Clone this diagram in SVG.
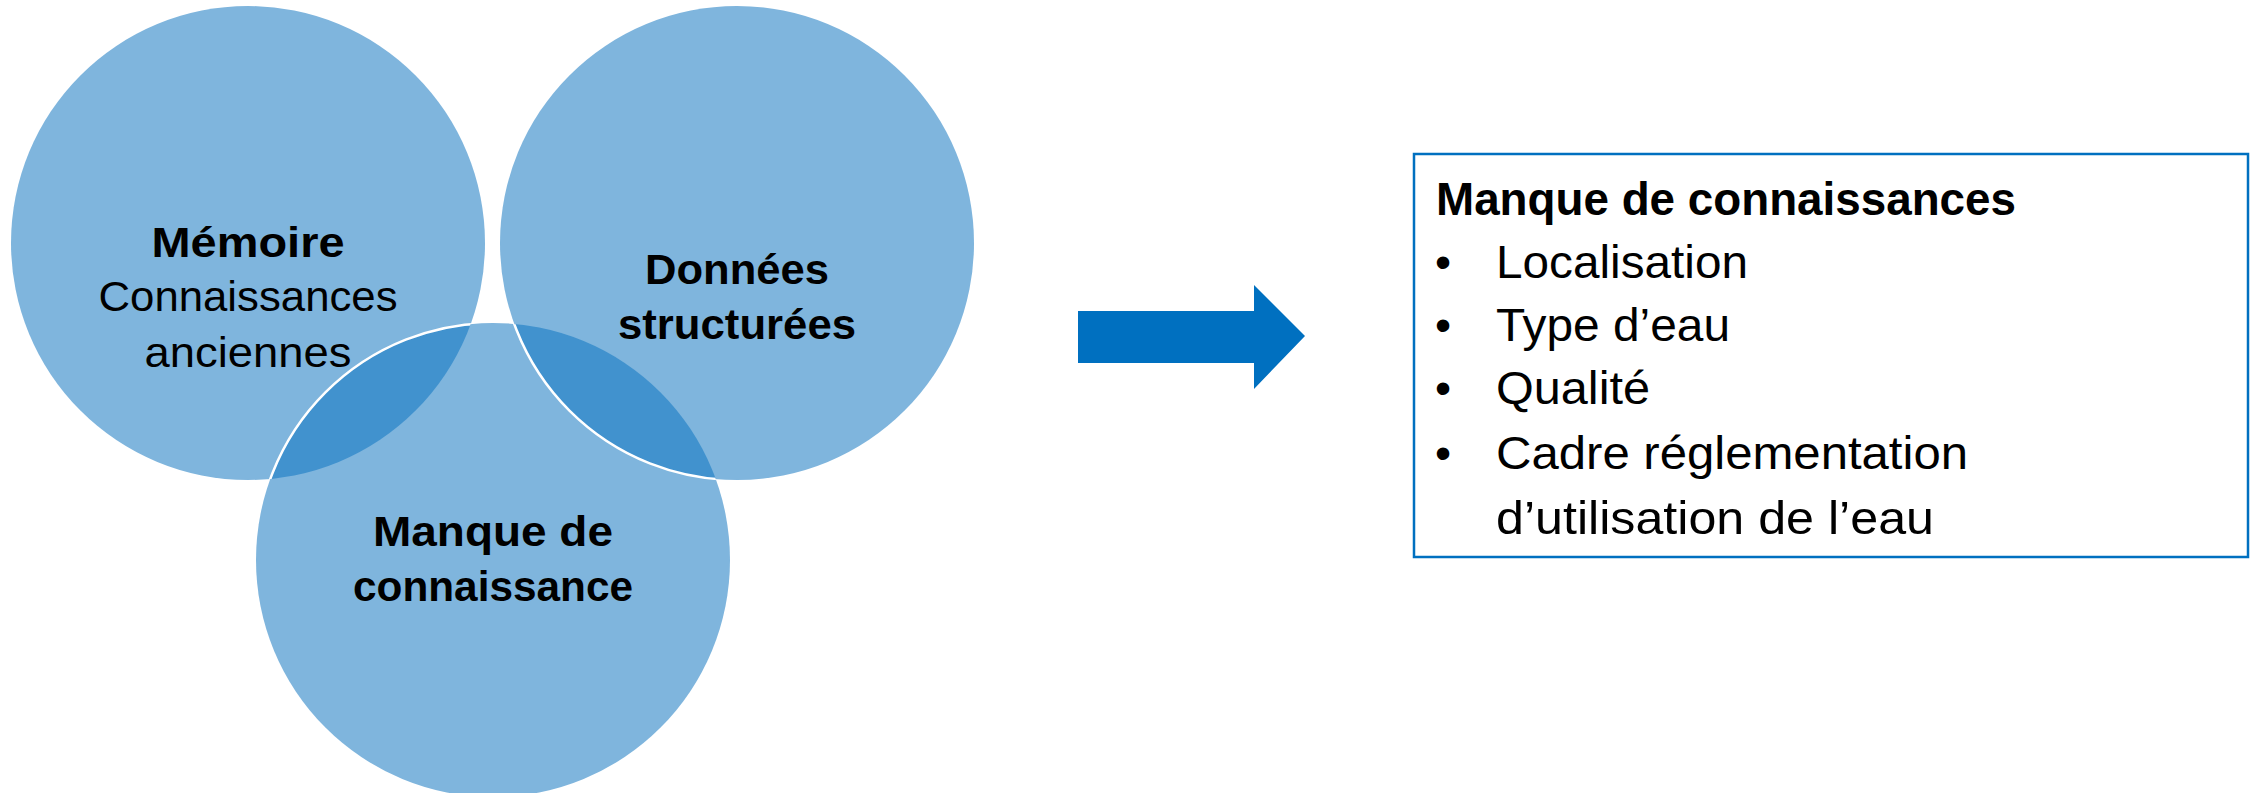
<svg xmlns="http://www.w3.org/2000/svg" width="2252" height="793" viewBox="0 0 2252 793">
<defs>
<style>
.c{fill:#7FB5DD}
.lens{fill:#4192CE}
.edge{fill:none;stroke:#FFFFFF;stroke-width:2.5}
text{font-family:"Liberation Sans",Arial,sans-serif;fill:#000}
.l{font-size:42px}
.r{font-size:46px}
.b{font-weight:bold}
.m{text-anchor:middle}
</style>
<clipPath id="clipL"><circle cx="248" cy="243" r="237"/></clipPath>
<clipPath id="clipR"><circle cx="737" cy="243" r="237"/></clipPath>
<clipPath id="clipB"><circle cx="493" cy="560" r="237"/></clipPath>
</defs>
<rect width="2252" height="793" fill="#FFFFFF"/>
<g id="node-memoire">
<circle class="c" cx="248" cy="243" r="237"/>
</g>
<g id="node-donnees">
<circle class="c" cx="737" cy="243" r="237"/>
</g>
<g id="node-manque">
<circle class="c" cx="493" cy="560" r="237"/>
</g>
<g id="overlaps">
<circle class="lens" cx="493" cy="560" r="237" clip-path="url(#clipL)"/>
<circle class="lens" cx="493" cy="560" r="237" clip-path="url(#clipR)"/>
<circle class="edge" cx="493" cy="560" r="237" clip-path="url(#clipL)"/>
<circle class="edge" cx="737" cy="243" r="237" clip-path="url(#clipB)"/>
</g>
<g id="labels-venn">
<text class="l b m" x="248" y="257" textLength="193" lengthAdjust="spacingAndGlyphs">Mémoire</text>
<text class="l m" x="248" y="311" textLength="299" lengthAdjust="spacingAndGlyphs">Connaissances</text>
<text class="l m" x="248" y="367" textLength="207" lengthAdjust="spacingAndGlyphs">anciennes</text>
<text class="l b m" x="737" y="284" textLength="184" lengthAdjust="spacingAndGlyphs">Données</text>
<text class="l b m" x="737" y="339" textLength="238" lengthAdjust="spacingAndGlyphs">structurées</text>
<text class="l b m" x="493" y="546" textLength="240" lengthAdjust="spacingAndGlyphs">Manque de</text>
<text class="l b m" x="493" y="601" textLength="280" lengthAdjust="spacingAndGlyphs">connaissance</text>
</g>
<g id="connectors">
<polygon points="1078,311 1254,311 1254,285 1305,336 1254,389 1254,363 1078,363" fill="#0070C0"/>
</g>
<g id="node-box">
<rect x="1414" y="154" width="834" height="403" fill="#FFFFFF" stroke="#0070C0" stroke-width="2.5"/>
<text class="r b" x="1436" y="215" textLength="580" lengthAdjust="spacingAndGlyphs">Manque de connaissances</text>
<text class="r m" x="1443" y="278">•</text>
<text class="r" x="1496" y="278" textLength="252" lengthAdjust="spacingAndGlyphs">Localisation</text>
<text class="r m" x="1443" y="341">•</text>
<text class="r" x="1496" y="341" textLength="234" lengthAdjust="spacingAndGlyphs">Type d’eau</text>
<text class="r m" x="1443" y="404">•</text>
<text class="r" x="1496" y="404" textLength="154" lengthAdjust="spacingAndGlyphs">Qualité</text>
<text class="r m" x="1443" y="469">•</text>
<text class="r" x="1496" y="469" textLength="472" lengthAdjust="spacingAndGlyphs">Cadre réglementation</text>
<text class="r" x="1496" y="534" textLength="438" lengthAdjust="spacingAndGlyphs">d’utilisation de l’eau</text>
</g>
</svg>
